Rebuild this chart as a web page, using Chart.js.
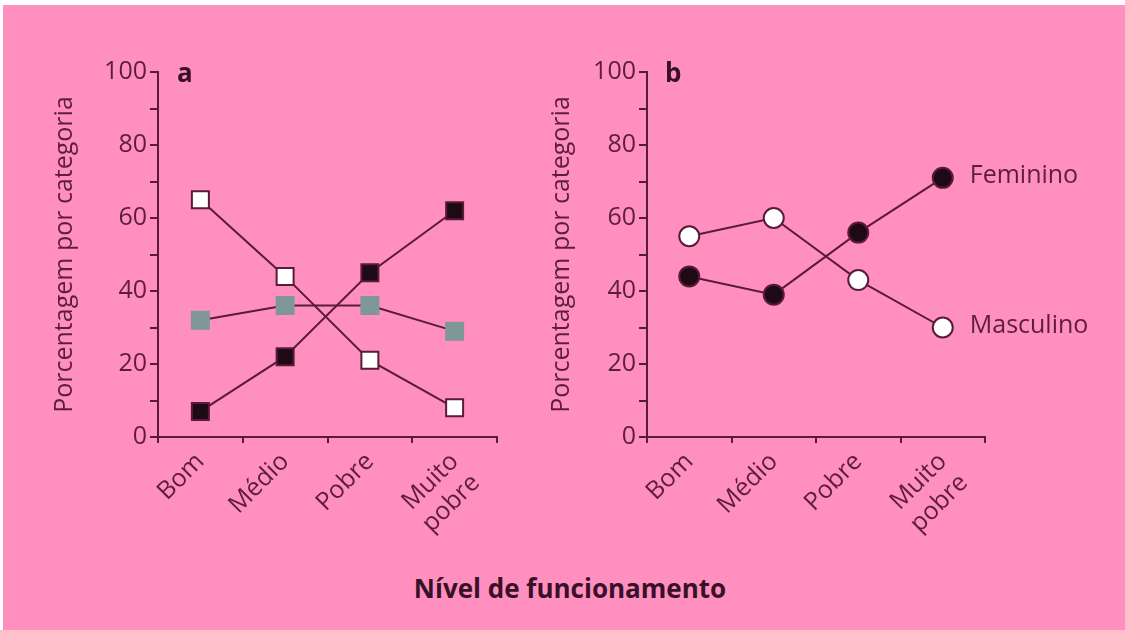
<!DOCTYPE html>
<html lang="pt">
<head>
  <meta charset="UTF-8" />
  <title>Nível de funcionamento</title>
  <style>
    body { margin: 0; background: #fff; width: 1125px; height: 630px; overflow: hidden; font-family: "Open Sans", sans-serif; }
    .bg { position: absolute; left: 3px; top: 5px; width: 1122px; height: 625px; background: #fe8fbe; }
    .panel { position: absolute; top: 0; height: 560px; }
    #wrapA { left: 0; width: 520px; }
    #wrapB { left: 520px; width: 605px; }
    .letter { position: absolute; top: 54px; font-weight: bold; font-size: 26px; color: #3a0f28; }
    .xtitle { position: absolute; left: 0; width: 1140px; top: 570px; text-align: center; font-weight: bold; font-size: 26px; color: #3a0f28; }
  </style>
</head>
<body>
  <div class="bg"></div>
  <div class="panel" id="wrapA"><canvas id="chartA"></canvas></div>
  <div class="panel" id="wrapB"><canvas id="chartB"></canvas></div>
  <div class="letter" style="left:177px">a</div>
  <div class="letter" style="left:665px">b</div>
  <div class="xtitle">Nível de funcionamento</div>

  <script src="https://cdn.jsdelivr.net/npm/chart.js"></script>
  <script>
    const categories = [['Bom'], ['Médio'], ['Pobre'], ['Muito', 'pobre']];
    const yTitle = 'Porcentagem por categoria';

    // painel a
    const whiteSquares = [65, 44, 21, 8];
    const blackSquares = [7, 22, 45, 62];
    const graySquares = [32, 36, 36, 29];

    // painel b
    const feminino = [44, 39, 56, 71];
    const masculino = [55, 60, 43, 30];
    const seriesNamesB = ['Feminino', 'Masculino'];

    const ink = '#5a1a3a';
    const textInk = '#5e1d3e';
    const font = { family: '"Open Sans", sans-serif', size: 25 };

    function lineSet(data, fill, border, style, radius, label) {
      return {
        label, data,
        borderColor: ink, borderWidth: 2,
        pointStyle: style, pointRadius: radius,
        pointBackgroundColor: fill, pointBorderColor: border, pointBorderWidth: 2,
        tension: 0, fill: false
      };
    }

    function makeScales(yAxisWidth, titlePad) {
      return {
        x: {
          type: 'category', offset: true,
          grid: { offset: true, drawOnChartArea: false, tickLength: 6, color: ink, lineWidth: 2 },
          border: { color: ink, width: 2 },
          ticks: { minRotation: 45, maxRotation: 45, autoSkip: false, padding: 4, color: textInk, font },
          afterFit: s => { s.height = 123; }
        },
        y: {
          min: 0, max: 100,
          grid: { drawOnChartArea: false, tickLength: 8, color: ink, lineWidth: 2 },
          border: { color: ink, width: 2 },
          ticks: { stepSize: 10, padding: 3, color: textInk, font,
                   callback: v => (v % 20 === 0 ? v : '') },
          title: { display: true, text: yTitle, color: textInk, font, padding: { top: titlePad, bottom: 0 } },
          afterFit: s => { s.width = yAxisWidth; }
        }
      };
    }

    const endLabels = {
      id: 'endLabels',
      afterDatasetsDraw(chart, args, opts) {
        if (!opts.names) return;
        const ctx = chart.ctx;
        ctx.save();
        ctx.font = '25px "Open Sans", sans-serif';
        ctx.fillStyle = textInk;
        ctx.textBaseline = 'middle';
        opts.names.forEach((name, i) => {
          const pts = chart.getDatasetMeta(i).data;
          const p = pts[pts.length - 1];
          ctx.fillText(name, p.x + 27, p.y - 2);
        });
        ctx.restore();
      }
    };

    const common = {
      responsive: true, maintainAspectRatio: false, animation: false,
      plugins: { legend: { display: false }, tooltip: { enabled: false } }
    };

    new Chart(document.getElementById('chartA'), {
      type: 'line',
      data: {
        labels: categories,
        datasets: [
          lineSet(whiteSquares, '#ffffff', ink, 'rect', 12, 'a1'),
          lineSet(blackSquares, '#1e0a14', ink, 'rect', 12, 'a2'),
          lineSet(graySquares, '#7f9797', '#7f9797', 'rect', 12, 'a3')
        ]
      },
      options: Object.assign({}, common, {
        layout: { padding: { top: 72, right: 23, left: 0, bottom: 0 } },
        scales: makeScales(158, 50)
      })
    });

    new Chart(document.getElementById('chartB'), {
      type: 'line',
      data: {
        labels: categories,
        datasets: [
          lineSet(feminino, '#1e0a14', ink, 'circle', 10, seriesNamesB[0]),
          lineSet(masculino, '#ffffff', ink, 'circle', 10, seriesNamesB[1])
        ]
      },
      options: Object.assign({}, common, {
        layout: { padding: { top: 72, right: 140, left: 0, bottom: 0 } },
        scales: makeScales(127, 27),
        plugins: Object.assign({}, common.plugins, { endLabels: { names: seriesNamesB } })
      }),
      plugins: [endLabels]
    });
  </script>
</body>
</html>
